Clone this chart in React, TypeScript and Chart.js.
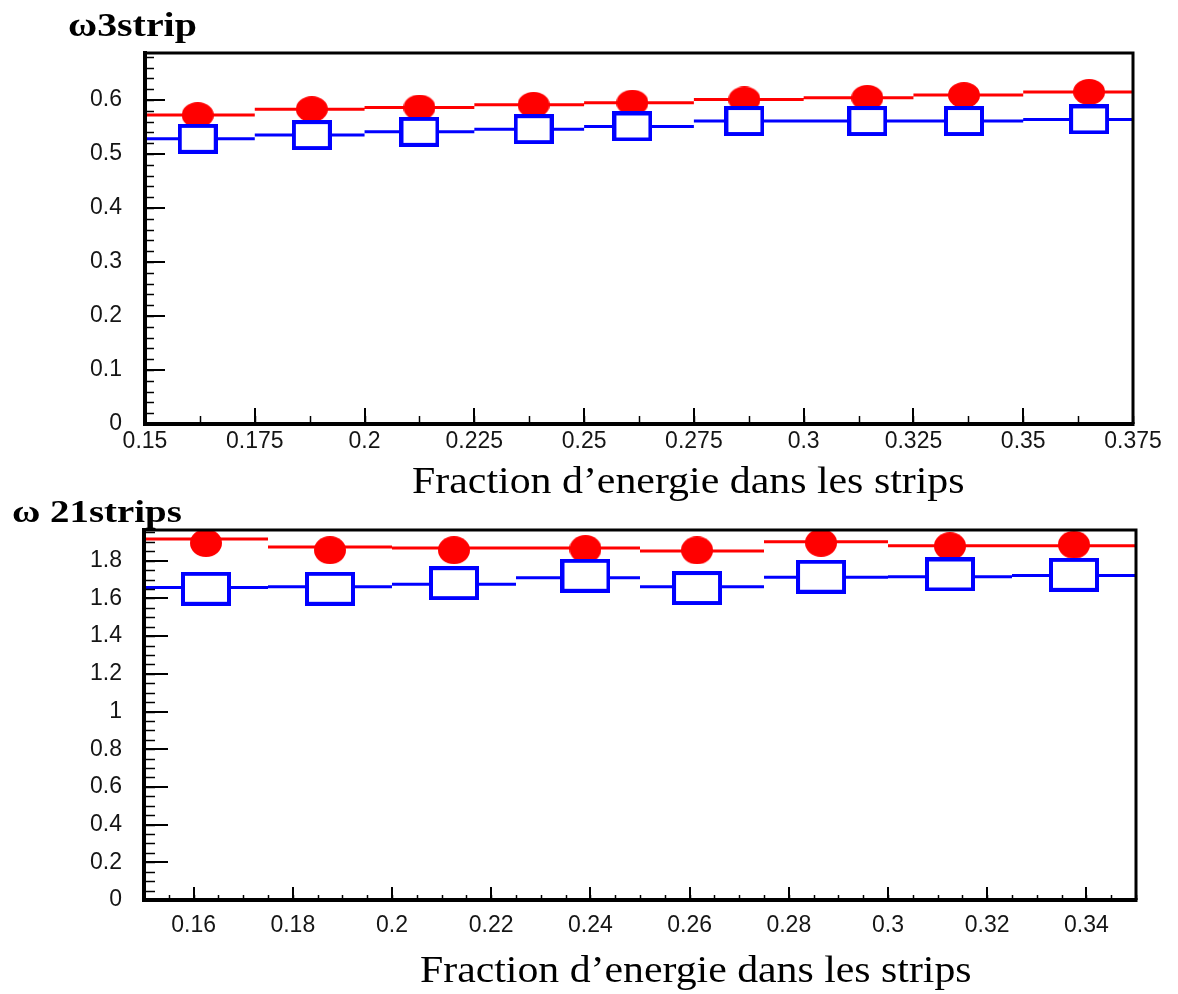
import React, { useEffect, useLayoutEffect, useRef, useState } from "react";
import { Chart, registerables } from "chart.js";

Chart.register(...registerables);

// ---------------- Top panel : ω 3strip ----------------
const topBinEdges = [0.15, 0.175, 0.2, 0.225, 0.25, 0.275, 0.3, 0.325, 0.35, 0.375];
const topMarkerX = [0.162, 0.188, 0.2125, 0.2385, 0.261, 0.2865, 0.3145, 0.3365, 0.365];
const topRed = [0.572, 0.583, 0.586, 0.591, 0.595, 0.601, 0.604, 0.609, 0.615];
const topBlue = [0.528, 0.535, 0.541, 0.546, 0.551, 0.561, 0.561, 0.561, 0.564];
const topXTicks = [0.15, 0.175, 0.2, 0.225, 0.25, 0.275, 0.3, 0.325, 0.35, 0.375];
const topXTickLabels = ["0.15", "0.175", "0.2", "0.225", "0.25", "0.275", "0.3", "0.325", "0.35", "0.375"];
const topYTicks = [0, 0.1, 0.2, 0.3, 0.4, 0.5, 0.6];
const topYTickLabels = ["0", "0.1", "0.2", "0.3", "0.4", "0.5", "0.6"];

// ---------------- Bottom panel : ω 21strips ----------------
const botBinEdges = [0.15, 0.175, 0.2, 0.225, 0.25, 0.275, 0.3, 0.325, 0.35];
const botMarkerX = [0.1625, 0.1875, 0.2125, 0.239, 0.2615, 0.2865, 0.3125, 0.3375];
const botRedLine = [1.915, 1.873, 1.868, 1.868, 1.852, 1.9, 1.88, 1.88];
const botRedMarker = [1.894, 1.856, 1.856, 1.862, 1.855, 1.895, 1.877, 1.885];
const botBlueLine = [1.658, 1.662, 1.675, 1.71, 1.662, 1.712, 1.715, 1.722];
const botBlueMarker = [1.651, 1.651, 1.681, 1.72, 1.655, 1.715, 1.727, 1.725];
const botXTicks = [0.16, 0.18, 0.2, 0.22, 0.24, 0.26, 0.28, 0.3, 0.32, 0.34];
const botXTickLabels = ["0.16", "0.18", "0.2", "0.22", "0.24", "0.26", "0.28", "0.3", "0.32", "0.34"];
const botYTicks = [0, 0.2, 0.4, 0.6, 0.8, 1, 1.2, 1.4, 1.6, 1.8];
const botYTickLabels = ["0", "0.2", "0.4", "0.6", "0.8", "1", "1.2", "1.4", "1.6", "1.8"];

const titleTop = "ω3strip";
const titleBottom = "ω 21strips";
const axisTitle = "Fraction d’energie dans les strips";

const W = 1178;
const RED = "#ff0000";
const BLUE = "#0000ff";

function ellipseImg(w: number, h: number, color: string) {
  const c = document.createElement("canvas");
  c.width = w;
  c.height = h;
  const g = c.getContext("2d")!;
  g.fillStyle = color;
  g.beginPath();
  g.ellipse(w / 2, h / 2, w / 2, h / 2, 0, 0, Math.PI * 2);
  g.fill();
  return c;
}

function rectImg(w: number, h: number, color: string, lw: number) {
  const c = document.createElement("canvas");
  c.width = w;
  c.height = h;
  const g = c.getContext("2d")!;
  g.fillStyle = "#ffffff";
  g.fillRect(0, 0, w, h);
  g.strokeStyle = color;
  g.lineWidth = lw;
  g.strokeRect(lw / 2, lw / 2, w - lw, h - lw);
  return c;
}

const steps = (edges: number[], vals: number[]) =>
  vals.flatMap((v, i) => [
    { x: edges[i], y: v },
    { x: edges[i + 1], y: v },
    { x: edges[i + 1], y: null as any },
  ]);

const points = (xs: number[], ys: number[]) => ys.map((y, i) => ({ x: xs[i], y }));

type PanelCfg = {
  top: number;
  height: number;
  area: { left: number; right: number; top: number; bottom: number };
  xMin: number;
  xMax: number;
  yMin: number;
  yMax: number;
  xTicks: number[];
  xTickLabels: string[];
  yTicks: number[];
  yTickLabels: string[];
  xMinorStep: number;
  yMinorStep: number;
  xMajorLen: number;
  xMinorLen: number;
  yMajorLen: number;
  yMinorLen: number;
  xLabelPad: number;
  yLabelPad: number;
  edges: number[];
  markerX: number[];
  redLine: number[];
  redMarker: number[];
  blueLine: number[];
  blueMarker: number[];
  circle: [number, number];
  square: [number, number];
};

function Panel({ cfg }: { cfg: PanelCfg }) {
  const ref = useRef<HTMLCanvasElement>(null);
  useEffect(() => {
    const a = cfg.area;
    const framePlugin = {
      id: "rootFrame",
      afterDraw(chart: any) {
        const { ctx, chartArea: ca, scales } = chart;
        const xs = scales.x;
        const ys = scales.y;
        ctx.save();
        ctx.strokeStyle = "#000";
        ctx.lineCap = "butt";
        ctx.lineWidth = 1.5;
        const eps = 1e-9;
        for (let v = cfg.xMin; v <= cfg.xMax + eps; v += cfg.xMinorStep) {
          const px = Math.round(xs.getPixelForValue(v)) + 0.5;
          ctx.beginPath();
          ctx.moveTo(px, ca.bottom);
          ctx.lineTo(px, ca.bottom - cfg.xMinorLen);
          ctx.stroke();
        }
        for (let v = cfg.yMin; v <= cfg.yMax + eps; v += cfg.yMinorStep) {
          const py = Math.round(ys.getPixelForValue(v)) + 0.5;
          ctx.beginPath();
          ctx.moveTo(ca.left, py);
          ctx.lineTo(ca.left + cfg.yMinorLen, py);
          ctx.stroke();
        }
        ctx.lineWidth = 2;
        cfg.xTicks.forEach((v) => {
          const px = Math.round(xs.getPixelForValue(v));
          ctx.beginPath();
          ctx.moveTo(px, ca.bottom);
          ctx.lineTo(px, ca.bottom - cfg.xMajorLen);
          ctx.stroke();
        });
        cfg.yTicks.forEach((v) => {
          const py = Math.round(ys.getPixelForValue(v));
          ctx.beginPath();
          ctx.moveTo(ca.left, py);
          ctx.lineTo(ca.left + cfg.yMajorLen, py);
          ctx.stroke();
        });
        ctx.lineWidth = 3;
        ctx.beginPath();
        ctx.moveTo(ca.left, ca.top);
        ctx.lineTo(ca.right, ca.top);
        ctx.lineTo(ca.right, ca.bottom);
        ctx.stroke();
        ctx.lineWidth = 4;
        ctx.beginPath();
        ctx.moveTo(ca.left, ca.top - 2);
        ctx.lineTo(ca.left, ca.bottom);
        ctx.lineTo(ca.right + 1.5, ca.bottom);
        ctx.stroke();
        ctx.restore();
      },
    };

    const tickFont = { family: '"Liberation Sans", Arial, sans-serif', size: 23 };
    const chart = new Chart(ref.current!, {
      type: "scatter",
      data: {
        datasets: [
          {
            label: "blue markers",
            data: points(cfg.markerX, cfg.blueMarker),
            pointStyle: rectImg(cfg.square[0], cfg.square[1], BLUE, 4) as any,
            pointRadius: 10,
            showLine: false,
            clip: false as any,
            order: 0,
          },
          {
            label: "red markers",
            data: points(cfg.markerX, cfg.redMarker),
            pointStyle: ellipseImg(cfg.circle[0], cfg.circle[1], RED) as any,
            pointRadius: 10,
            showLine: false,
            clip: false as any,
            order: 1,
          },
          {
            label: "blue steps",
            data: steps(cfg.edges, cfg.blueLine),
            showLine: true,
            borderColor: BLUE,
            borderWidth: 3,
            pointRadius: 0,
            spanGaps: false,
            order: 2,
          },
          {
            label: "red steps",
            data: steps(cfg.edges, cfg.redLine),
            showLine: true,
            borderColor: RED,
            borderWidth: 3,
            pointRadius: 0,
            spanGaps: false,
            order: 3,
          },
        ],
      },
      options: {
        responsive: false,
        animation: false,
        devicePixelRatio: 1,
        events: [],
        layout: { padding: { left: 0, top: a.top, right: W - a.right, bottom: 0 } },
        plugins: { legend: { display: false }, tooltip: { enabled: false } },
        scales: {
          x: {
            type: "linear",
            min: cfg.xMin,
            max: cfg.xMax,
            grid: { display: false, drawTicks: false },
            border: { display: false },
            afterFit: (s: any) => {
              s.height = cfg.height - a.bottom;
            },
            afterBuildTicks: (s: any) => {
              s.ticks = cfg.xTicks.map((v) => ({ value: v }));
            },
            ticks: {
              autoSkip: false,
              maxRotation: 0,
              minRotation: 0,
              padding: cfg.xLabelPad,
              color: "#151515",
              font: tickFont,
              callback: (_v: any, i: number) => cfg.xTickLabels[i],
            },
          },
          y: {
            type: "linear",
            min: cfg.yMin,
            max: cfg.yMax,
            grid: { display: false, drawTicks: false },
            border: { display: false },
            afterFit: (s: any) => {
              s.width = a.left;
            },
            afterBuildTicks: (s: any) => {
              s.ticks = cfg.yTicks.map((v) => ({ value: v }));
            },
            ticks: {
              autoSkip: false,
              padding: cfg.yLabelPad,
              color: "#151515",
              font: tickFont,
              callback: (_v: any, i: number) => cfg.yTickLabels[i],
            },
          },
        },
      } as any,
      plugins: [framePlugin as any],
    });
    return () => chart.destroy();
  }, []);
  return (
    <canvas
      ref={ref}
      width={W}
      height={cfg.height}
      style={{ position: "absolute", left: 0, top: cfg.top, width: W, height: cfg.height }}
    />
  );
}

function FitText({
  text,
  left,
  baseline,
  size,
  bold,
  width,
}: {
  text: string;
  left: number;
  baseline: number;
  size: number;
  bold: boolean;
  width: number;
}) {
  const ref = useRef<HTMLSpanElement>(null);
  const [sx, setSx] = useState(1);
  useLayoutEffect(() => {
    const w = ref.current ? ref.current.offsetWidth : 0;
    if (w > 0) setSx(width / w);
  }, []);
  return (
    <span
      ref={ref}
      style={{
        position: "absolute",
        left,
        top: baseline - 0.8375 * size,
        fontFamily: '"Liberation Serif", "Times New Roman", serif',
        fontSize: size,
        fontWeight: bold ? "bold" : "normal",
        lineHeight: `${size}px`,
        whiteSpace: "nowrap",
        color: "#000",
        transform: `scaleX(${sx})`,
        transformOrigin: "0 0",
      }}
    >
      {text}
    </span>
  );
}

const topCfg: PanelCfg = {
  top: 0,
  height: 470,
  area: { left: 145, right: 1133, top: 53, bottom: 424 },
  xMin: 0.15,
  xMax: 0.375,
  yMin: 0,
  yMax: 0.687,
  xTicks: topXTicks,
  xTickLabels: topXTickLabels,
  yTicks: topYTicks,
  yTickLabels: topYTickLabels,
  xMinorStep: 0.0125,
  yMinorStep: 0.02,
  xMajorLen: 16,
  xMinorLen: 8,
  yMajorLen: 20,
  yMinorLen: 9,
  xLabelPad: 4,
  yLabelPad: 23,
  edges: topBinEdges,
  markerX: topMarkerX,
  redLine: topRed,
  redMarker: topRed,
  blueLine: topBlue,
  blueMarker: topBlue,
  circle: [32, 26],
  square: [40, 30],
};

const botCfg: PanelCfg = {
  top: 470,
  height: 524,
  area: { left: 144, right: 1136, top: 60, bottom: 430 },
  xMin: 0.15,
  xMax: 0.35,
  yMin: 0,
  yMax: 1.963,
  xTicks: botXTicks,
  xTickLabels: botXTickLabels,
  yTicks: botYTicks,
  yTickLabels: botYTickLabels,
  xMinorStep: 0.005,
  yMinorStep: 0.05,
  xMajorLen: 13,
  xMinorLen: 5,
  yMajorLen: 24,
  yMinorLen: 11,
  xLabelPad: 12,
  yLabelPad: 22,
  edges: botBinEdges,
  markerX: botMarkerX,
  redLine: botRedLine,
  redMarker: botRedMarker,
  blueLine: botBlueLine,
  blueMarker: botBlueMarker,
  circle: [32, 28],
  square: [50, 34],
};

export default function App() {
  return (
    <div
      style={{
        position: "absolute",
        left: 0,
        top: 0,
        width: W,
        height: 994,
        background: "#fff",
        overflow: "hidden",
      }}
    >
      <Panel cfg={topCfg} />
      <Panel cfg={botCfg} />
      <FitText text={titleTop} left={68} baseline={36} size={34} bold={true} width={129} />
      <FitText text={titleBottom} left={12} baseline={522} size={32} bold={true} width={170} />
      <FitText text={axisTitle} left={412} baseline={493} size={38} bold={false} width={553} />
      <FitText text={axisTitle} left={420} baseline={982} size={38} bold={false} width={552} />
    </div>
  );
}
